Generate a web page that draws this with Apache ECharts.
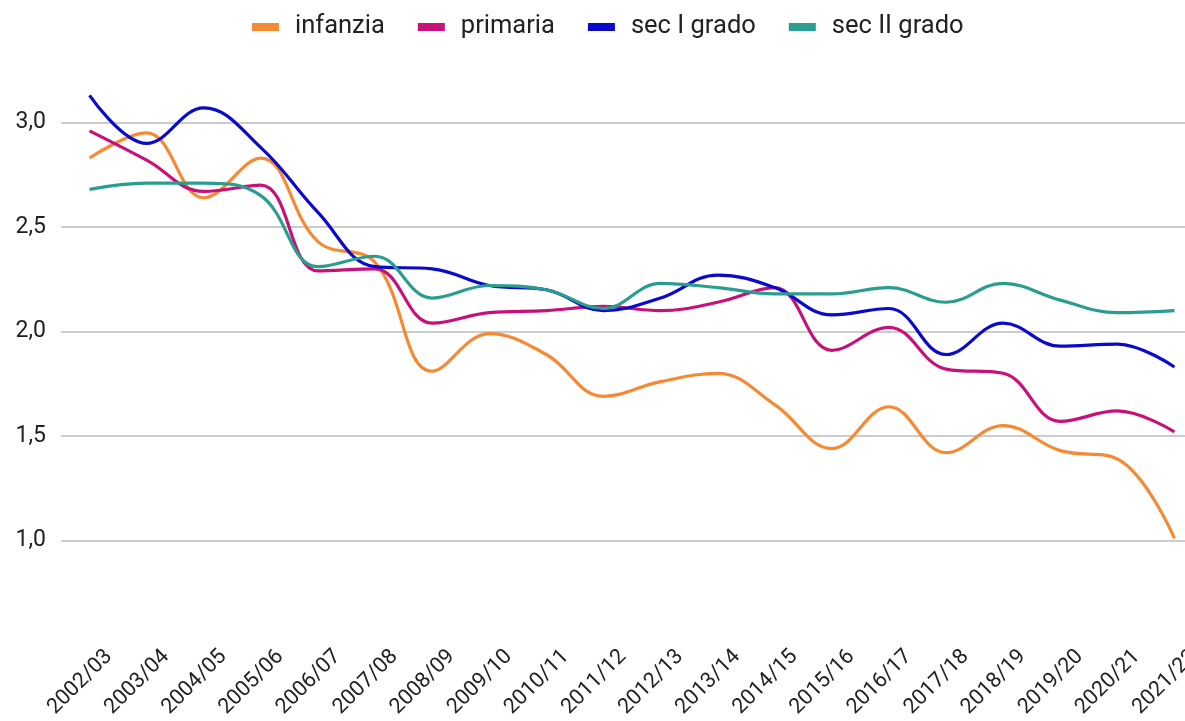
<!DOCTYPE html>
<html>
<head>
<meta charset="utf-8">
<script src="https://cdn.jsdelivr.net/npm/echarts@6/dist/echarts.min.js"></script>
<style>
  html, body { margin: 0; padding: 0; background: #fff; }
  #main { width: 1185px; height: 721px; }
</style>
</head>
<body>
<div id="main"></div>
<script>
// anni scolastici
var categories = ['2002/03', '2003/04', '2004/05', '2005/06', '2006/07', '2007/08', '2008/09', '2009/10', '2010/11', '2011/12',
  '2012/13', '2013/14', '2014/15', '2015/16', '2016/17', '2017/18', '2018/19', '2019/20', '2020/21', '2021/22'];

// valori
var infanzia = [2.83, 2.95, 2.64, 2.83, 2.43, 2.33, 1.81, 1.99, 1.89, 1.69, 1.76, 1.80, 1.65, 1.44, 1.64, 1.42, 1.55, 1.43, 1.39, 1.01];
var primaria = [2.96, 2.82, 2.67, 2.70, 2.29, 2.30, 2.04, 2.09, 2.10, 2.12, 2.10, 2.14, 2.21, 1.91, 2.02, 1.82, 1.80, 1.57, 1.62, 1.52];
var secIgrado = [3.13, 2.90, 3.07, 2.88, 2.57, 2.31, 2.30, 2.22, 2.20, 2.10, 2.16, 2.27, 2.21, 2.08, 2.11, 1.89, 2.04, 1.93, 1.94, 1.83];
var secIIgrado = [2.68, 2.71, 2.71, 2.65, 2.31, 2.36, 2.16, 2.22, 2.20, 2.11, 2.23, 2.21, 2.18, 2.18, 2.21, 2.14, 2.23, 2.15, 2.09, 2.10];

var seriesNames = ['infanzia', 'primaria', 'sec I grado', 'sec II grado'];
var seriesData = [infanzia, primaria, secIgrado, secIIgrado];
var colors = ['#f58a34', '#c8107a', '#0a0acc', '#2a9d8f'];

var myChart = echarts.init(document.getElementById('main'));

myChart.setOption({
  color: colors,
  animation: false,
  textStyle: { fontFamily: 'Roboto' },
  legend: {
    left: 247,
    top: 9,
    icon: 'rect',
    itemWidth: 27,
    itemHeight: 8,
    itemGap: 33,
    textStyle: { fontSize: 25.5, color: '#222', lineHeight: 26, padding: [0, 0, 0, 11] },
    data: seriesNames
  },
  // niente ridimensionamento automatico per le etichette
  grid: { left: 61, right: -18, top: 18, bottom: 76, outerBoundsMode: 'none', containLabel: false },
  xAxis: {
    type: 'category',
    data: categories,
    boundaryGap: true,
    axisLine: { show: false },
    axisTick: { show: false },
    axisLabel: {
      interval: 0,
      rotate: 45,
      fontSize: 21.5,
      color: '#222',
      verticalAlign: 'top',
      lineHeight: 55,
      margin: -11
    }
  },
  yAxis: {
    type: 'value',
    min: 0.5,
    max: 3.5,
    interval: 0.5,
    axisLine: { show: false },
    axisTick: { show: false },
    axisLabel: {
      fontSize: 23,
      color: '#222',
      margin: 15,
      showMinLabel: false,
      showMaxLabel: false,
      formatter: function (v) { return v.toFixed(1).replace('.', ','); }
    },
    splitLine: {
      showMinLine: false,
      showMaxLine: false,
      lineStyle: { color: '#cccccc', width: 2 }
    }
  },
  series: seriesNames.map(function (name, i) {
    return {
      name: name,
      type: 'line',
      data: seriesData[i],
      smooth: 0.4,
      showSymbol: false,
      symbol: 'none',
      lineStyle: { width: 3.2 }
    };
  })
});
</script>
</body>
</html>
